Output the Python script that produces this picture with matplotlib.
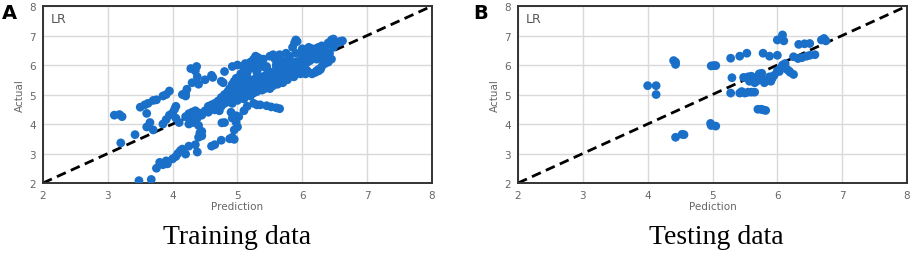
import matplotlib
matplotlib.use("Agg")
import matplotlib.pyplot as plt
import numpy as np

# training set (prediction, actual)
train_pred = [
    3.10, 3.18, 3.22, 3.20, 3.42, 3.50, 3.57, 3.62, 3.60, 3.60, 3.65, 3.70,
    3.70, 3.75, 3.85, 3.90, 3.95, 3.85, 3.90, 3.95, 4.00, 4.03, 4.05, 4.05,
    4.10, 4.15, 4.20, 4.22, 4.20, 4.28, 4.37, 4.35, 4.38, 4.30, 4.40, 4.50,
    4.60, 4.62, 4.75, 4.78, 4.80,
    3.48, 3.67, 3.75, 3.80, 3.85, 3.90, 3.92, 4.00, 4.05, 4.08, 4.12, 4.15,
    4.20, 4.25, 4.35, 4.38, 4.40, 4.45, 4.42, 4.45, 4.60, 4.65, 4.75, 4.88,
    4.92, 4.95, 4.95, 5.00, 4.98, 4.92, 4.90, 4.98, 5.02, 4.80, 4.76,
    4.25, 4.30, 4.35, 4.40, 4.45, 4.50, 4.55, 4.60, 4.65, 4.70, 4.75, 4.72,
    4.28, 4.32, 4.38, 4.40, 4.25, 4.20,
    4.80, 4.82, 4.85, 4.85, 4.88, 4.90, 4.90, 4.92, 4.95, 4.95, 4.98, 5.00,
    5.00, 5.02, 5.02, 5.05, 5.05, 5.08, 5.08, 5.10, 5.10, 5.12, 5.15, 5.15,
    5.18, 5.18, 5.20, 5.20, 5.22, 5.25, 5.25, 5.28, 5.30, 5.30, 5.32, 5.35,
    5.35, 5.38, 5.40, 5.40, 5.42, 5.45, 5.45, 5.48, 5.50, 5.50, 5.52, 5.55,
    5.55, 5.58, 5.60, 5.60, 5.62, 5.65, 5.68, 5.70, 5.70, 5.72, 5.75, 5.78,
    5.80, 5.82, 5.85, 5.85, 5.88, 5.90, 5.92, 5.95, 5.95, 5.98, 6.00, 6.02,
    6.05, 6.05, 6.08, 6.10, 6.12, 6.15, 6.18, 6.20, 6.22, 6.25, 6.28, 6.30,
    6.32, 6.35,
    4.92, 5.00, 5.05, 5.08, 5.10, 5.12, 5.15, 5.20, 5.22, 5.25, 5.28, 5.30,
    5.32, 5.30, 5.35, 5.38, 5.40, 5.45, 5.50, 5.55, 5.58, 5.60, 5.65, 5.68,
    5.70, 5.75, 5.80, 5.85, 5.88, 5.90, 5.92, 5.80, 5.90, 5.92, 6.00, 6.05,
    6.10,
    5.25, 5.30, 5.35, 5.45, 5.52, 5.60, 5.65, 5.10, 5.15,
    4.55, 4.60, 4.65, 4.70, 4.75, 4.78, 4.70, 4.75, 4.80, 4.85, 4.88, 4.92,
    4.95, 4.98,
    6.00, 6.05, 6.10, 6.15, 6.20, 6.25, 6.28, 6.30, 6.35, 6.40, 6.45, 6.38,
    6.42, 6.48, 6.50, 6.55, 6.58, 6.62, 6.45, 6.48, 6.40, 6.20, 6.25, 6.30,
    6.10, 6.15, 6.25, 6.30, 6.35, 6.00, 6.10, 5.90, 5.95, 6.25, 6.22,
    # filling the dense core of the band
    4.86, 4.94, 5.03, 5.07, 5.13, 5.17, 5.23, 5.27, 5.33, 5.37, 5.43, 5.47,
    5.53, 5.57, 5.63, 5.67, 5.73, 5.77, 5.83, 5.87, 5.93, 5.97, 6.03, 6.07,
    4.97, 5.04, 5.11, 5.19, 5.26, 5.34, 5.41, 5.49, 5.56, 5.64, 5.71, 5.79,
    5.86, 5.94, 6.01, 6.09, 6.16, 6.24, 5.00, 5.15, 5.30, 5.45, 5.60, 5.75,
]
train_actual = [
    4.30, 4.32, 4.25, 3.36, 3.64, 4.57, 4.65, 4.70, 4.36, 3.90, 4.05, 3.80,
    4.80, 4.82, 4.95, 5.00, 5.12, 4.00, 4.15, 4.30, 4.38, 4.50, 4.60, 4.20,
    4.05, 5.00, 5.05, 5.18, 4.95, 5.88, 5.95, 5.80, 5.60, 5.40, 5.35, 5.50,
    5.65, 5.58, 5.45, 5.40, 5.78,
    2.08, 2.12, 2.50, 2.70, 2.62, 2.75, 2.65, 2.82, 2.90, 3.00, 3.10, 3.15,
    2.98, 3.25, 3.30, 3.05, 3.55, 3.60, 3.70, 3.75, 3.25, 3.30, 3.45, 3.50,
    3.55, 3.48, 3.80, 3.90, 4.05, 4.20, 4.40, 4.28, 4.25, 4.05, 4.04,
    4.35, 4.40, 4.45, 4.38, 4.30, 4.45, 4.40, 4.50, 4.48, 4.55, 4.60, 4.45,
    4.15, 4.05, 4.20, 3.95, 4.00, 4.25,
    4.70, 4.85, 4.95, 4.75, 4.80, 4.90, 5.05, 4.70, 4.85, 5.00, 5.10, 4.80,
    4.95, 5.05, 5.20, 4.90, 5.10, 5.00, 5.25, 4.85, 5.15, 5.30, 5.00, 5.20,
    5.10, 5.35, 4.95, 5.25, 5.40, 5.05, 5.20, 5.30, 5.45, 5.10, 5.25, 5.35,
    5.55, 5.15, 5.30, 5.45, 5.20, 5.40, 5.60, 5.30, 5.50, 5.20, 5.65, 5.40,
    5.30, 5.55, 5.45, 5.70, 5.35, 5.60, 5.50, 5.75, 5.40, 5.65, 5.55, 5.80,
    5.65, 5.90, 5.70, 6.00, 5.80, 6.10, 5.90, 6.05, 5.75, 6.15, 5.95, 6.20,
    6.05, 6.25, 6.10, 6.30, 6.15, 6.35, 6.25, 6.40, 6.20, 6.45, 6.35, 6.50,
    6.40, 6.55,
    5.95, 6.00, 5.70, 5.55, 5.85, 6.05, 5.75, 6.10, 5.90, 6.20, 6.30, 6.00,
    6.25, 5.80, 6.10, 5.95, 6.20, 5.95, 6.30, 6.35, 6.20, 6.00, 6.35, 6.15,
    5.95, 6.40, 6.25, 6.60, 6.75, 6.85, 6.80, 6.30, 6.40, 6.10, 6.35, 6.45,
    6.50,
    4.70, 4.65, 4.65, 4.62, 4.58, 4.55, 4.52, 4.45, 4.60,
    4.60, 4.65, 4.70, 4.78, 4.80, 4.92, 4.68, 4.90, 5.00, 5.10, 5.20, 5.35,
    5.45, 5.55,
    5.85, 5.70, 5.75, 5.70, 5.75, 5.80, 5.85, 5.95, 6.05, 6.10, 6.20, 6.25,
    6.40, 6.60, 6.70, 6.75, 6.80, 6.82, 6.85, 6.88, 6.75, 6.55, 6.60, 6.65,
    6.40, 6.55, 6.30, 6.20, 6.30, 6.55, 6.60, 5.95, 5.85, 5.85, 5.80,
    4.90, 4.95, 5.12, 5.00, 5.22, 5.08, 5.32, 5.15, 5.40, 5.22, 5.48, 5.28,
    5.58, 5.35, 5.66, 5.42, 5.74, 5.50, 5.84, 5.60, 5.92, 5.70, 6.02, 5.82,
    5.20, 5.28, 5.38, 5.45, 5.52, 5.58, 5.62, 5.70, 5.78, 5.84, 5.90, 5.98,
    6.05, 6.12, 6.18, 6.24, 6.30, 6.38, 5.35, 5.58, 5.75, 5.88, 5.98, 6.12,
]

# testing set
test_pred = [
    4.00, 4.13, 4.13, 4.40, 4.43, 4.43, 4.43, 4.53, 4.56, 4.98, 5.02, 5.05,
    4.97, 4.98, 5.05, 5.28, 5.42, 5.53, 5.30, 5.28, 5.42, 5.45, 5.50, 5.55,
    5.60, 5.65, 5.48, 5.55, 5.60, 5.57, 5.65, 5.68, 5.70, 5.72, 5.76, 5.75,
    5.80, 5.83, 5.88, 5.90, 5.92, 5.95, 5.70, 5.75, 5.78, 5.82, 5.78, 5.88,
    6.00, 6.00, 6.08, 6.10, 6.00, 6.05, 6.08, 6.10, 6.12, 6.15, 6.20, 6.25,
    6.18, 6.03, 6.25, 6.32, 6.38, 6.45, 6.50, 6.58, 6.33, 6.42, 6.50, 6.68,
    6.72, 6.75,
]
test_actual = [
    5.30, 5.30, 5.00, 6.15, 6.10, 6.02, 3.55, 3.65, 3.64, 5.97, 5.98, 5.98,
    4.02, 3.95, 3.93, 6.23, 6.30, 6.40, 5.57, 5.05, 5.05, 5.10, 5.05, 5.08,
    5.08, 5.08, 5.58, 5.60, 5.62, 5.45, 5.40, 5.45, 5.50, 5.70, 5.72, 5.55,
    5.40, 5.48, 5.60, 5.45, 5.55, 5.65, 4.50, 4.50, 4.48, 4.46, 6.40, 6.30,
    6.33, 6.85, 7.02, 6.82, 5.80, 5.90, 6.00, 5.95, 6.05, 5.85, 5.75, 5.68,
    5.80, 5.78, 6.28, 6.22, 6.25, 6.30, 6.33, 6.35, 6.70, 6.72, 6.73, 6.85,
    6.90, 6.82,
]

axis_ticks = [2, 3, 4, 5, 6, 7, 8]

POINT_COLOR = "#1a70c8"
GRID_COLOR = "#d9d9d9"
TEXT_GREY = "#666666"


def draw_panel(ax, x, y, xlabel):
    ax.plot([2, 8], [2, 8], color="black", linestyle=(0, (3.5, 2)), linewidth=2, zorder=2)
    ax.scatter(x, y, s=40, color=POINT_COLOR, edgecolors="none", zorder=3)
    ax.set_xlim(2, 8)
    ax.set_ylim(2, 8)
    ax.set_xticks(axis_ticks)
    ax.set_yticks(axis_ticks)
    ax.grid(True, color=GRID_COLOR, linewidth=1)
    ax.set_axisbelow(True)
    ax.tick_params(length=0, labelsize=7.5, labelcolor=TEXT_GREY, pad=5)
    for sp in ax.spines.values():
        sp.set_color("#333333")
        sp.set_linewidth(1.4)
    ax.set_xlabel(xlabel, fontsize=7.5, color=TEXT_GREY, labelpad=1)
    ax.set_ylabel("Actual", fontsize=7.5, color=TEXT_GREY, labelpad=3)
    ax.text(2.12, 7.45, "LR", fontsize=9, color="#555555")


fig = plt.figure(figsize=(9.13, 2.55), dpi=100)
ax_a = fig.add_axes([0.0471, 0.2784, 0.426, 0.694])
ax_b = fig.add_axes([0.5674, 0.2784, 0.426, 0.694])

draw_panel(ax_a, train_pred, train_actual, "Prediction")
draw_panel(ax_b, test_pred, test_actual, "Pediction")

fig.text(0.002, 0.985, "A", fontsize=14, fontweight="bold", va="top", ha="left")
fig.text(0.518, 0.985, "B", fontsize=14, fontweight="bold", va="top", ha="left")

fig.text(0.26, 0.02, "Training data", fontsize=20, family="Liberation Serif", ha="center", va="bottom")
fig.text(0.785, 0.02, "Testing data", fontsize=20, family="Liberation Serif", ha="center", va="bottom")

fig.savefig("out.png", dpi=100)
